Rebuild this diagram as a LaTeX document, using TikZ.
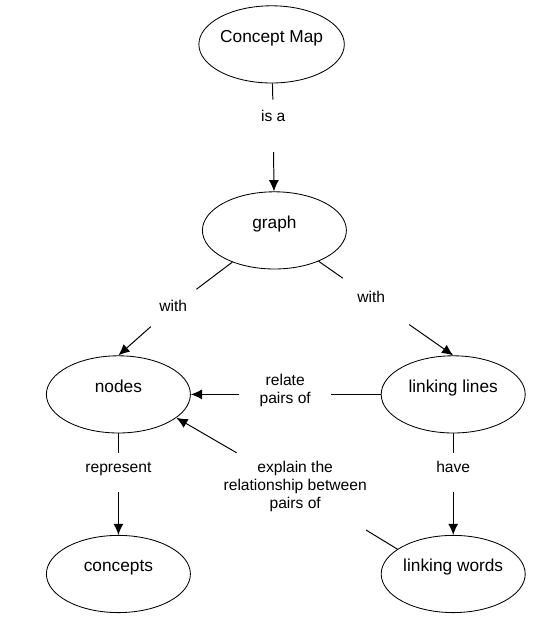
\documentclass[tikz,border=0pt]{standalone}
\usepackage{fontspec}
\setmainfont{Liberation Sans}
\usetikzlibrary{shapes.geometric,arrows.meta}
\begin{document}
\begin{tikzpicture}[
	concept/.style={ellipse,draw,line width=0.6pt,fill=white,inner sep=0pt,minimum width=3.6cm,minimum height=1.93cm,text height=0.25cm,text depth=0.35cm,font=\fontsize{12.3}{12.8}\selectfont},
	phrase/.style={inner sep=0pt,text height=0.3cm,text depth=0.08cm,font=\fontsize{11.1}{12.8}\selectfont},
	phrases/.style={inner sep=0pt,align=center,font=\fontsize{11.1}{12.8}\selectfont},
	link/.style={line width=0.7pt},
	arr/.style={line width=0.7pt,-{Latex[length=0.28cm,width=0.25cm]}}
	]
	\useasboundingbox (0,0) rectangle (13.95,15.5);
	\foreach \n/\t/\x/\y in {cmap/Concept Map/6.79/14.39, graph/graph/6.86/9.74, nodes/nodes/2.96/5.64, lines/linking lines/11.33/5.64, concepts/concepts/2.96/1.15, words/linking words/11.33/1.15}{
		\node[concept] (\n) at (\x,\y) {\t};
	}
	\foreach \n/\t/\x/\y in {isa/is a/6.83/12.58, withl/with/4.33/7.83, withr/with/9.28/8.05, represent/represent/2.96/3.80, have/have/11.33/3.80}{
		\node[phrase] (\n) at (\x,\y) {\t};
	}
	\node[phrases] (relate) at (7.13,5.75) {relate\\pairs of};
	\node[phrases] (explain) at (7.38,3.33) {explain the\\relationship between\\pairs of};
	
	\foreach \a/\b/\c/\s/\e in {cmap/isa/graph/0.235/0.685, graph/withl/nodes.north/0.4/0.45, graph/withr/lines.north/0.52/0.815, nodes/represent/concepts/0.185/0.41, lines/have/words/0.185/0.41, words.156/explain/nodes.-22/0.85/0.42}{
		\draw[link,shorten >=\s cm] (\a) -- (\b);
		\draw[arr,shorten <=\e cm] (\b) -- (\c);
	}
	\draw[link,shorten >=0.5cm] (lines.west) -- (lines.west -| relate.east);
	\draw[arr,shorten <=0.5cm] (relate.west |- nodes.east) -- (nodes.east);
\end{tikzpicture}
\end{document}
